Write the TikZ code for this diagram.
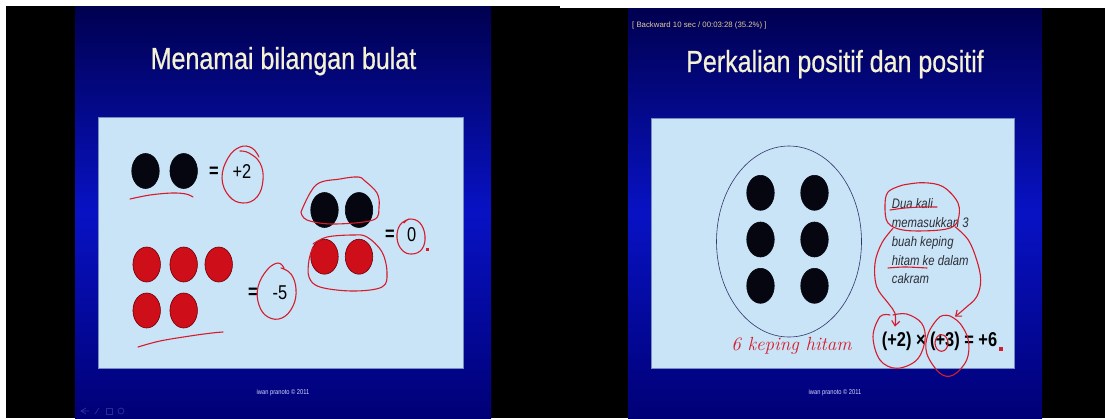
\documentclass[tikz,border=0pt]{standalone}
\usepackage{fontspec}
\newfontfamily\slidefont[FakeStretch=0.82]{Liberation Sans}
\newfontfamily\titlefont[FakeStretch=0.82, FakeBold=0.6]{Liberation Sans}
\newfontfamily\plainfont{Liberation Sans}
\usetikzlibrary{shapes.geometric, positioning, calc, arrows.meta}
\definecolor{slidetop}{RGB}{0, 0, 80}
\definecolor{slidemid}{RGB}{8, 18, 196}
\definecolor{slidebot}{RGB}{0, 0, 118}
\definecolor{panelblue}{RGB}{200, 228, 246}
\definecolor{paneledge}{RGB}{120, 140, 190}
\definecolor{titlecol}{RGB}{245, 242, 212}
\definecolor{chipblack}{RGB}{6, 6, 16}
\definecolor{chipred}{RGB}{206, 14, 24}
\definecolor{chipedge}{RGB}{110, 0, 10}
\definecolor{inkred}{RGB}{214, 28, 44}
\definecolor{notegray}{RGB}{45, 45, 55}
\definecolor{tancol}{RGB}{222, 204, 150}
\definecolor{faint}{RGB}{40, 45, 150}

\tikzset{
    chip/.style={ellipse, minimum width=27.5pt, minimum height=35pt, inner sep=0pt, line width=0.6pt},
    blackchip/.style={chip, fill=chipblack, draw=chipblack},
    redchip/.style={chip, fill=chipred, draw=chipedge},
    ink/.style={draw=inkred, line width=1.1pt, line cap=round, line join=round},
    slidetitle/.style={font=\titlefont\fontsize{30.5}{36}\selectfont, text=titlecol, inner sep=0pt, anchor=base},
    numtext/.style={font=\slidefont\fontsize{20}{24}\selectfont, text=black, inner sep=0pt},
    eqsign/.style={font=\slidefont\bfseries\fontsize{20}{24}\selectfont, text=black, inner sep=0pt},
    notetext/.style={font=\slidefont\itshape\fontsize{13.8}{17}\selectfont, text=notegray, inner sep=0pt, anchor=base west},
    footer/.style={font=\slidefont\fontsize{7}{8}\selectfont, text=white!85!blue, inner sep=0pt}
}

\begin{document}
\begin{tikzpicture}[x=1pt, y=-1pt, >={Straight Barb[length=5pt, width=8pt]}]
    \useasboundingbox (0,0) rectangle (1105,418);
    % Background and slides
    \fill[white] (0,0) rectangle (1105,418);
    \fill[black] (6,6) rectangle (560,418);
    \fill[black] (560,8) rectangle (1105,418);
    \shade[top color=slidetop, bottom color=slidebot, middle color=slidemid] (75,6) rectangle (491,418);
    \shade[top color=slidetop, bottom color=slidebot, middle color=slidemid] (628,8) rectangle (1042,418);
    \filldraw[fill=panelblue, draw=paneledge, line width=0.6pt] (98,117) rectangle (463,368);
    \filldraw[fill=panelblue, draw=paneledge, line width=0.6pt] (651,118) rectangle (1014,368);

    % Titles and small texts
    \node[slidetitle] (titleA) at (283.5,69) {Menamai bilangan bulat};
    \node[slidetitle] (titleB) at (835,72) {Perkalian positif dan positif};
    \node[font=\plainfont\fontsize{7.8}{9}\selectfont, text=tancol, inner sep=0pt, anchor=west] (seek) at (632,25) {[ Backward 10 sec / 00:03:28 (35.2\%) ]};
    \node[footer] (footA) at (283,393) {iwan pranoto \textcopyright{} 2011};
    \node[footer] (footB) at (835,393) {iwan pranoto \textcopyright{} 2011};

    % Faint navigation icons
    \draw[faint, line width=0.8pt] (86,408) -- (81,411) -- (86,414) (81,411) -- (89,411);
    \draw[faint, line width=0.8pt] (95,414) -- (99,408);
    \draw[faint, line width=0.8pt] (106,408) rectangle (112,414);
    \draw[faint, line width=0.8pt] (121,411) circle (3);

    % Left slide: chips
    \node[blackchip] (b1) at (145.5,171) {};
    \node[blackchip] (b2) at (183.7,171) {};
    \node[redchip] (r1) at (146.7,264.5) {};
    \node[redchip] (r2) at (183.7,264.5) {};
    \node[redchip] (r3) at (218.7,264.5) {};
    \node[redchip] (r4) at (146.7,310.5) {};
    \node[redchip] (r5) at (183.7,310.5) {};
    \node[blackchip] (b3) at (324.5,210) {};
    \node[blackchip] (b4) at (359,210) {};
    \node[redchip] (r6) at (324.5,256.7) {};
    \node[redchip] (r7) at (359,256.7) {};

    % Left slide: values
    \node[eqsign] (eqA) at (214,172) {=};
    \node[numtext] (plus2) at (242,172) {+2};
    \node[eqsign] (eqB) at (253,293) {=};
    \node[numtext] (minus5) at (280,293) {-5};
    \node[eqsign] (eqC) at (390,235) {=};
    \node[numtext] (zero) at (411.7,235) {0};

    % Left slide: red ink
    \draw[ink] plot[smooth, tension=0.6] coordinates {(130,199) (150,195) (172,193) (186,194) (193,197)};
    \draw[ink] plot[smooth, tension=0.6] coordinates {(138,347) (160,341) (190,336) (212,333) (223,332)};
    \draw[ink] plot[smooth, tension=0.7] coordinates {(259,157) (252,148) (240,147) (228,158) (222,178) (229,196) (243,203) (257,197) (263,180) (260,163) (249,153) (240,151)};
    \draw[ink] plot[smooth, tension=0.7] coordinates {(284,268) (278,263) (267,270) (258,287) (259,305) (268,317) (282,318) (293,306) (296,289) (291,274) (281,268)};
    \draw[ink] plot[smooth, tension=0.7] coordinates {(409,219) (400,225) (397,238) (402,250) (412,254) (422,249) (425,236) (420,223) (410,219) (404,223)};
    \draw[ink] plot[smooth, tension=0.6] coordinates {(301,212) (316,185) (340,179) (358,177) (365,181) (377,193) (379,207) (373,220) (333,224) (307,220) (301,212)};
    \draw[ink] plot[smooth, tension=0.6] coordinates {(313,244) (327,237) (353,235) (367,237) (382,252) (387,273) (382,287) (353,291) (320,287) (309,277) (309,260) (313,247)};
    \fill[inkred] (426,248) rectangle (429,251);

    % Right slide: disk with chips
    \node[ellipse, draw=black!65!blue!60!gray, line width=0.6pt, minimum width=145pt, minimum height=191pt, inner sep=0pt] (disk) at (789,241.5) {};
    \node[blackchip] (c1) at (760.5,192.8) {};
    \node[blackchip] (c2) at (814.5,192.8) {};
    \node[blackchip] (c3) at (760.5,239.5) {};
    \node[blackchip] (c4) at (814.5,239.5) {};
    \node[blackchip] (c5) at (760.5,285.8) {};
    \node[blackchip] (c6) at (814.5,285.8) {};

    % Right slide: note and equation
    \node[notetext] (note1) at (891.7,208) {Dua kali};
    \node[notetext] (note2) at (891.7,227.5) {memasukkan 3};
    \node[notetext] (note3) at (891.7,246.5) {buah keping};
    \node[notetext] (note4) at (891.7,265) {hitam ke dalam};
    \node[notetext] (note5) at (891.7,283.3) {cakram};
    \node[eqsign] (prod) at (939.5,341.7) {(+2) × (+3) = +6};
    \node[font=\rmfamily\itshape\fontsize{19}{21}\selectfont, text=inkred, inner sep=0pt, anchor=base] (hand) at (791.5,350) {6 keping hitam};

    % Right slide: red ink
    \draw[ink] plot[smooth, tension=0.6] coordinates {(890,210) (905,208) (922,207) (937,207)};
    \draw[ink] plot[smooth, tension=0.6] coordinates {(888,268) (905,267) (927,268)};
    \draw[ink] plot[smooth, tension=0.6] coordinates {(903,185) (923,182.7) (943,186.7) (958,203) (958,220) (950,228) (930,230.7) (903,230) (888,223) (885,207) (888,192) (903,185)};
    \draw[ink, ->] plot[smooth, tension=0.6] coordinates {(893,228.3) (881.7,243.3) (875,263.3) (876.7,286.7) (888.3,303.3) (895,313.3) (895,326.7)};
    \draw[ink, ->] plot[smooth, tension=0.6] coordinates {(955,226.7) (968.3,240) (976.7,260) (980.7,280) (976.7,296.7) (965,308.3) (955,316.7)};
    \draw[ink] plot[smooth, tension=0.6] coordinates {(890,315) (880,316.7) (873,336.7) (880,360) (896.7,368.3) (916.7,360) (925,340) (921.7,323.3) (906.7,314) (893,315)};
    \draw[ink] plot[smooth, tension=0.6] coordinates {(950,316) (940,316.7) (928.3,333.3) (926.7,353.3) (940,373.3) (953.3,375) (966.7,360) (968.3,340) (960,323.3) (950,316)};
    \draw[ink] (941.5,343) ellipse [x radius=6.5, y radius=8.3];
    \fill[inkred] (999,347) rectangle (1002.5,350.5);
\end{tikzpicture}
\end{document}
